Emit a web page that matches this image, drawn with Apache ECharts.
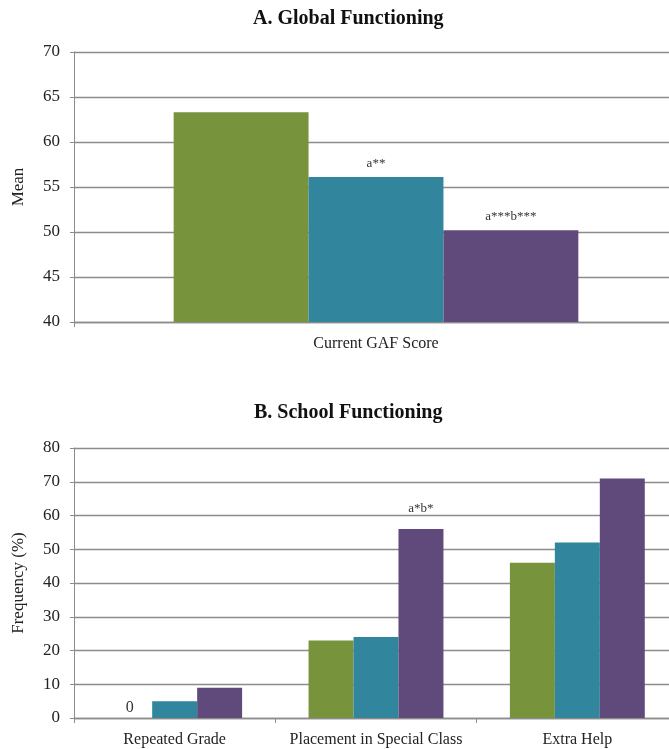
<!DOCTYPE html>
<html>
<head>
<meta charset="utf-8">
<script src="https://cdn.jsdelivr.net/npm/echarts@6/dist/echarts.min.js"></script>
<style>
  html, body { margin: 0; padding: 0; background: #fff; overflow: hidden; }
  /* plot runs a little past the right edge, like the source */
  #chart { width: 678px; height: 749px; }
</style>
</head>
<body>
<div id="chart"></div>
<script>
// panel A: global functioning
const gafCategories = ['Current GAF Score'];
const gafGroup1 = [63.3];
const gafGroup2 = [56.1];
const gafGroup3 = [50.2];
const gafNotes1 = [''];
const gafNotes2 = ['a**'];
const gafNotes3 = ['a***b***'];
const gafTicks = { min: 40, max: 70, step: 5 };

// panel B: school functioning
const schoolCategories = ['Repeated Grade', 'Placement in Special Class', 'Extra Help'];
const schoolGroup1 = [0, 23, 46];
const schoolGroup2 = [5, 24, 52];
const schoolGroup3 = [9, 56, 71];
const schoolNotes1 = ['0', '', ''];
const schoolNotes2 = ['', '', ''];
const schoolNotes3 = ['', 'a*b*', ''];
const schoolTicks = { min: 0, max: 80, step: 10 };

const colors = ['#77933C', '#31859C', '#604A7B'];
const serif = 'Liberation Serif';
const gridGray = '#8c8c8c';

const chartDom = document.getElementById('chart');
const myChart = echarts.init(chartDom);

function yAxisFor(gridIndex, ticks, name) {
    return {
        gridIndex: gridIndex,
        type: 'value',
        min: ticks.min,
        max: ticks.max,
        interval: ticks.step,
        name: name,
        nameLocation: 'middle',
        nameGap: 47,
        nameTextStyle: { fontFamily: serif, fontSize: 17, color: '#222' },
        axisLine: { show: true, lineStyle: { color: gridGray, width: 1 } },
        axisTick: { show: true, length: 4, lineStyle: { color: gridGray } },
        axisLabel: { fontFamily: serif, fontSize: 17, color: '#222', margin: 14 },
        splitLine: { lineStyle: { color: gridGray, width: 1.3 } }
    };
}

function xAxisFor(gridIndex, cats) {
    return {
        gridIndex: gridIndex,
        type: 'category',
        data: cats,
        axisLine: { lineStyle: { color: gridGray, width: 1.3 } },
        axisTick: { show: true, length: 5, lineStyle: { color: gridGray } },
        axisLabel: { fontFamily: serif, fontSize: 16, color: '#222', margin: 14, interval: 0 }
    };
}

function barSeries(name, axisIdx, values, notes, color, noteSize, noteDist) {
    return {
        name: name,
        type: 'bar',
        xAxisIndex: axisIdx,
        yAxisIndex: axisIdx,
        data: values,
        barGap: 0,
        barCategoryGap: '33%',
        itemStyle: { color: color },
        label: {
            show: true,
            position: 'top',
            distance: noteDist,
            fontFamily: serif,
            fontSize: noteSize,
            color: '#333',
            formatter: p => notes[p.dataIndex]
        }
    };
}

const option = {
    animation: false,
    backgroundColor: '#fff',
    title: [
        { text: 'A. Global Functioning', left: 253, top: 9, padding: 0,
          textStyle: { fontFamily: serif, fontSize: 20, fontWeight: 'bold', color: '#111' } },
        { text: 'B. School Functioning', left: 254, top: 403, padding: 0,
          textStyle: { fontFamily: serif, fontSize: 20, fontWeight: 'bold', color: '#111' } }
    ],
    grid: [
        { left: 74, right: 0, top: 52, bottom: 427 },
        { left: 74, right: 0, top: 448, bottom: 31 }
    ],
    xAxis: [xAxisFor(0, gafCategories), xAxisFor(1, schoolCategories)],
    yAxis: [yAxisFor(0, gafTicks, 'Mean'), yAxisFor(1, schoolTicks, 'Frequency (%)')],
    series: [
        barSeries('Group 1', 0, gafGroup1, gafNotes1, colors[0], 13, 7),
        barSeries('Group 2', 0, gafGroup2, gafNotes2, colors[1], 13, 7),
        barSeries('Group 3', 0, gafGroup3, gafNotes3, colors[2], 13, 7),
        barSeries('Group 1', 1, schoolGroup1, schoolNotes1, colors[0], 16, 2),
        barSeries('Group 2', 1, schoolGroup2, schoolNotes2, colors[1], 13, 14),
        barSeries('Group 3', 1, schoolGroup3, schoolNotes3, colors[2], 13, 14)
    ]
};

myChart.setOption(option);
</script>
</body>
</html>
